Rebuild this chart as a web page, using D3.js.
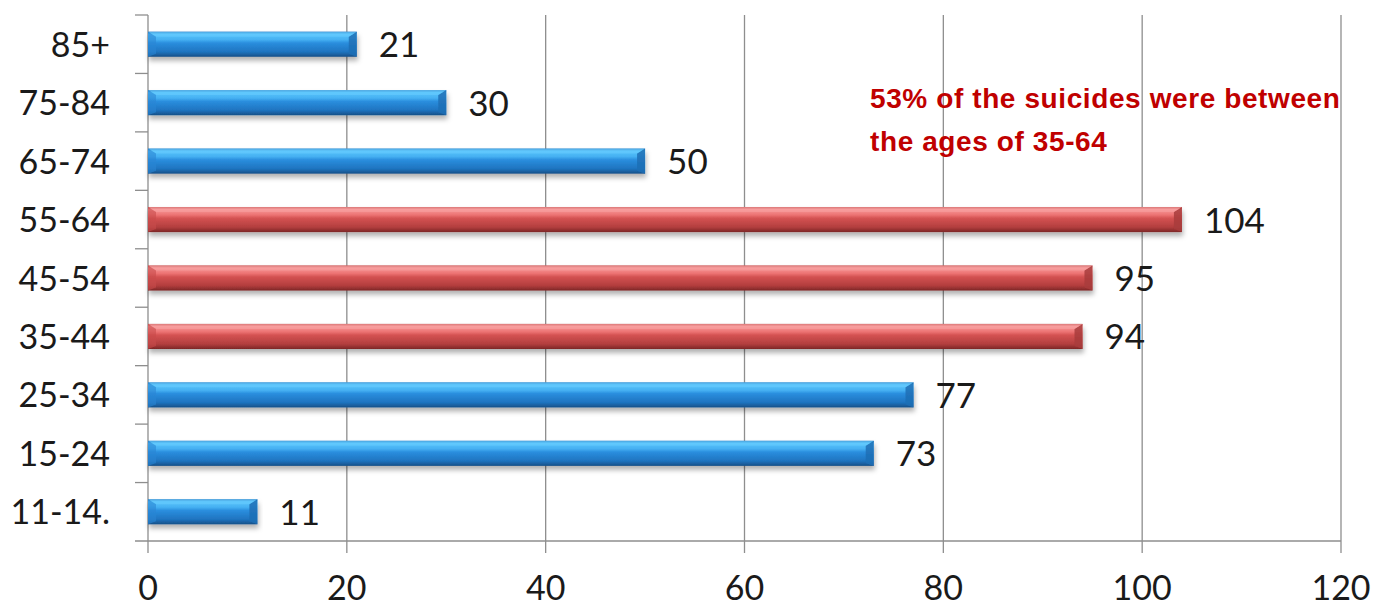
<!DOCTYPE html>
<html><head><meta charset="utf-8">
<script src="https://cdn.jsdelivr.net/npm/d3@7"></script>
<style>
html,body{margin:0;padding:0;background:#fff;}
svg{display:block;}
</style></head>
<body>
<svg id="chart" width="1387" height="607"></svg>
<script>
const categories = ["85+", "75-84", "65-74", "55-64", "45-54", "35-44", "25-34", "15-24", "11-14."];
const values = [21, 30, 50, 104, 95, 94, 77, 73, 11];
const highlighted = [false, false, false, true, true, true, false, false, false];
const xTicks = [0, 20, 40, 60, 80, 100, 120];
const annotationLines = ["53% of the suicides were between", "the ages of 35-64"];

(function () {
const svg = d3.select("#chart");
const mL = 148, mR = 1341, mT = 15, mB = 541;

const x = d3.scaleLinear().domain([0, 120]).range([mL, mR]);
const y = d3.scaleBand().domain(categories).range([mT, mB]).paddingInner(0.57).paddingOuter(0.285);

const defs = svg.append("defs");
function grad(id, stops) {
  const g = defs.append("linearGradient").attr("id", id).attr("x1", 0).attr("y1", 0).attr("x2", 0).attr("y2", 1);
  stops.forEach(s => g.append("stop").attr("offset", s[0]).attr("stop-color", s[1]));
}
grad("gBlue", [[0, "#2572b8"], [0.1, "#58c4fb"], [0.32, "#45b0f2"], [0.45, "#2a8ede"], [0.8, "#1f74c0"], [1, "#175087"]]);
grad("gRed", [[0, "#b84545"], [0.1, "#f79898"], [0.32, "#ec7272"], [0.45, "#d45252"], [0.8, "#b33e3e"], [1, "#7d2626"]]);
const f = defs.append("filter").attr("id", "shadow").attr("x", "-5%").attr("y", "-50%").attr("width", "110%").attr("height", "220%");
f.append("feDropShadow").attr("dx", 1).attr("dy", 4).attr("stdDeviation", 2.5).attr("flood-color", "#000").attr("flood-opacity", 0.3);

const gridColor = "#8e8e8e";
svg.append("g").selectAll("line").data(xTicks).join("line")
  .attr("x1", d => x(d)).attr("x2", d => x(d))
  .attr("y1", mT).attr("y2", mB + 12)
  .attr("stroke", gridColor).attr("stroke-width", 1.3);
svg.append("line").attr("x1", mL - 13).attr("x2", mR).attr("y1", mB).attr("y2", mB)
  .attr("stroke", gridColor).attr("stroke-width", 1.3);
const bounds = categories.map(c => y(c) - y.step() * y.paddingInner() / 2);
svg.append("g").selectAll("line").data(bounds).join("line")
  .attr("x1", mL - 13).attr("x2", mL).attr("y1", d => d).attr("y2", d => d)
  .attr("stroke", gridColor).attr("stroke-width", 1.3);

const bw = y.bandwidth();
const bars = svg.append("g").selectAll("g").data(categories).join("g").attr("filter", "url(#shadow)");
bars.append("rect")
  .attr("x", x(0)).attr("y", d => y(d))
  .attr("width", (d, i) => x(values[i]) - x(0)).attr("height", bw)
  .attr("fill", (d, i) => highlighted[i] ? "url(#gRed)" : "url(#gBlue)");
bars.append("polygon")
  .attr("points", (d, i) => {
    const xe = x(values[i]), y0 = y(d);
    return [[xe - 8, y0 + 5], [xe, y0], [xe, y0 + bw], [xe - 8, y0 + bw - 3]].map(p => p.join(",")).join(" ");
  })
  .attr("fill", (d, i) => highlighted[i] ? "#a83c3c" : "#1e6fb5").attr("opacity", 0.85);
bars.append("polygon")
  .attr("points", (d, i) => {
    const xe = x(values[i]), y0 = y(d);
    return [[x(0), y0], [xe, y0], [xe - 8, y0 + 5], [x(0) + 8, y0 + 5]].map(p => p.join(",")).join(" ");
  })
  .attr("fill", (d, i) => highlighted[i] ? "#f7a3a3" : "#68ccff").attr("opacity", 0.55);
bars.append("polygon")
  .attr("points", (d, i) => {
    const y0 = y(d);
    return [[x(0), y0], [x(0) + 8, y0 + 5], [x(0) + 8, y0 + bw - 3], [x(0), y0 + bw]].map(p => p.join(",")).join(" ");
  })
  .attr("fill", (d, i) => highlighted[i] ? "#c84b4b" : "#2a86d3").attr("opacity", 0.6);

const font = "Lato, 'Open Sans', sans-serif";
svg.append("g").selectAll("text").data(categories).join("text")
  .attr("x", (d, i) => x(values[i]) + 22)
  .attr("y", d => y(d) + bw / 2)
  .attr("dy", "0.37em")
  .attr("font-family", font).attr("font-size", 35).attr("fill", "#1a1a1a")
  .text((d, i) => values[i]);

svg.append("g").selectAll("text").data(categories).join("text")
  .attr("x", 110)
  .attr("y", d => y(d) + bw / 2)
  .attr("dy", "0.37em")
  .attr("text-anchor", "end")
  .attr("font-family", font).attr("font-size", 34).attr("fill", "#1a1a1a")
  .text(d => d);

svg.append("g").selectAll("text").data(xTicks).join("text")
  .attr("x", d => x(d)).attr("y", 600)
  .attr("text-anchor", "middle")
  .attr("font-family", font).attr("font-size", 34).attr("fill", "#1a1a1a")
  .text(d => d);

svg.append("g").selectAll("text").data(annotationLines).join("text")
  .attr("x", 870).attr("y", (d, i) => 108 + i * 43)
  .attr("font-family", "'Liberation Sans', Arial, sans-serif").attr("font-weight", "bold")
  .attr("font-size", 28).attr("letter-spacing", 0.6).attr("fill", "#c00000")
  .text(d => d);
})();
</script>
</body></html>
